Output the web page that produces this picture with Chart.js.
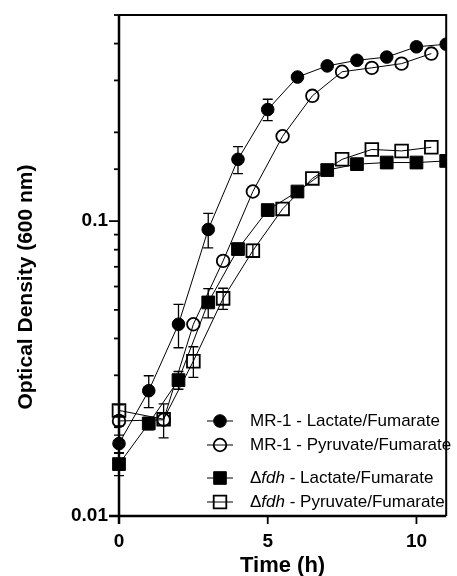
<!DOCTYPE html>
<html><head><meta charset="utf-8">
<script src="https://cdn.jsdelivr.net/npm/chart.js@4/dist/chart.umd.min.js"></script>
<style>html,body{margin:0;padding:0;background:#fff}#wrap{width:457px;height:576px}</style>
</head><body><div id="wrap"><canvas id="c" width="457" height="576"></canvas></div>
<script>
const timesA = [0,1,2,3,4,5,6,7,8,9,10,11];
const timesB = [0,1.5,2.5,3.5,4.5,5.5,6.5,7.5,8.5,9.5,10.5];
const mr1Lac = [0.0176,0.0266,0.0447,0.0937,0.162,0.239,0.308,0.336,0.351,0.360,0.390,0.398];
const mr1LacSd = [0.0012,0.0033,0.0075,0.0125,0.017,0.02,0,0,0,0,0,0];
const mr1Pyr = [0.021,0.0212,0.0447,0.0733,0.126,0.194,0.266,0.321,0.331,0.342,0.370];
const mr1PyrSd = [0.0008,0.0028,0,0,0,0,0,0,0,0,0];
const fdhLac = [0.015,0.0206,0.0289,0.053,0.0804,0.109,0.126,0.149,0.156,0.158,0.158,0.160];
const fdhLacSd = [0.0013,0.001,0.002,0.006,0.003,0,0,0,0,0,0,0];
const fdhPyr = [0.0228,0.0213,0.0335,0.0547,0.0794,0.110,0.1396,0.162,0.175,0.173,0.178];
const fdhPyrSd = [0.001,0.001,0.004,0.0045,0.004,0,0,0,0,0,0];
const seriesNames = ['MR-1 - Lactate/Fumarate','MR-1 - Pyruvate/Fumarate','\u0394fdh - Lactate/Fumarate','\u0394fdh - Pyruvate/Fumarate'];
const yLabelTicks = [0.01, 0.1];
const xLabelTicks = [0, 5, 10];
const xTitle = 'Time (h)';
const yTitle = 'Optical Density (600 nm)';

const pts = (xs, ys) => xs.map((x,i)=>({x, y: ys[i]}));
const FONT = "'Liberation Sans', Arial, sans-serif";

function ds(label, xs, ys, sd, style, filled){
  return {label, data: pts(xs, ys), sd, showLine: true, borderColor:'#000', borderWidth:1,
    pointStyle: style, pointRadius: style==='rect'?9:6.3, pointHoverRadius: style==='rect'?9:6.3,
    pointBackgroundColor: filled?'#000':'rgba(0,0,0,0)', pointBorderColor:'#000',
    pointBorderWidth: filled?1:1.8, fill:false, tension:0, clip:{left:12,top:0,right:0,bottom:0}};
}

const errorBars = {
  id:'errorBars',
  beforeDatasetsDraw(chart){
    const ctx = chart.ctx, xs = chart.scales.x, ys = chart.scales.y;
    ctx.save(); ctx.strokeStyle='#000'; ctx.lineWidth=1.3;
    chart.data.datasets.forEach(d=>{
      d.data.forEach((p,i)=>{
        const s = d.sd[i]; if(!s) return;
        const px = xs.getPixelForValue(p.x);
        const yt = ys.getPixelForValue(p.y + s), yb = ys.getPixelForValue(p.y - s);
        ctx.beginPath(); ctx.moveTo(px,yt); ctx.lineTo(px,yb);
        ctx.moveTo(px-5,yt); ctx.lineTo(px+5,yt);
        ctx.moveTo(px-5,yb); ctx.lineTo(px+5,yb); ctx.stroke();
      });
    });
    ctx.restore();
  }
};

const frame = {
  id:'frame',
  afterDatasetsDraw(chart){
    const ctx = chart.ctx, a = chart.chartArea, xs = chart.scales.x, ys = chart.scales.y;
    ctx.save(); ctx.strokeStyle='#000';
    ctx.lineWidth=2;
    ctx.beginPath(); ctx.moveTo(a.left,a.top); ctx.lineTo(a.right,a.top); ctx.lineTo(a.right,a.bottom); ctx.stroke();
    ctx.lineWidth=2.5;
    ctx.beginPath(); ctx.moveTo(a.left,a.top); ctx.lineTo(a.left,a.bottom+8); ctx.stroke();
    ctx.beginPath(); ctx.moveTo(a.left-10,a.bottom); ctx.lineTo(a.right,a.bottom); ctx.stroke();
    ctx.lineWidth=1.8;
    ys.ticks.forEach(t=>{
      const v=t.value; const py=ys.getPixelForValue(v);
      const major = yLabelTicks.some(m=>Math.abs(m-v)<1e-9);
      ctx.beginPath(); ctx.moveTo(a.left,py); ctx.lineTo(a.left-(major?10:5),py); ctx.stroke();
    });
    xLabelTicks.forEach(v=>{
      const px=xs.getPixelForValue(v);
      ctx.beginPath(); ctx.moveTo(px,a.bottom); ctx.lineTo(px,a.bottom+8); ctx.stroke();
    });
    const rows=[421,445,478,502];
    const styles=[['circle',true],['circle',false],['rect',true],['rect',false]];
    rows.forEach((ry,i)=>{
      ctx.lineWidth=1; ctx.strokeStyle='#000';
      ctx.beginPath(); ctx.moveTo(207,ry); ctx.lineTo(233,ry); ctx.stroke();
      const [st,f]=styles[i];
      ctx.beginPath();
      if(st==='circle'){ ctx.arc(220,ry,6.3,0,Math.PI*2);} else { ctx.rect(220-6.3,ry-6.3,12.6,12.6);}
      if(f){ctx.fillStyle='#000'; ctx.fill(); ctx.lineWidth=1; ctx.stroke();}
      else {ctx.lineWidth=1.8; ctx.stroke();}
      ctx.fillStyle='#000'; ctx.textBaseline='middle'; ctx.textAlign='left';
      const name = seriesNames[i];
      if(name.startsWith('\u0394')){
        let x=250;
        ctx.font='17px '+FONT; ctx.fillText('\u0394',x,ry); x+=ctx.measureText('\u0394').width;
        ctx.font='italic 17px '+FONT; ctx.fillText('fdh',x,ry); x+=ctx.measureText('fdh').width;
        ctx.font='17px '+FONT; ctx.fillText(name.slice(4),x,ry);
      } else {
        ctx.font='17px '+FONT; ctx.fillText(name,250,ry);
      }
    });
    ctx.fillStyle='#000';
    ctx.font='bold 22px '+FONT; ctx.textAlign='center'; ctx.textBaseline='alphabetic';
    ctx.fillText(xTitle,(a.left+a.right)/2,572);
    ctx.save(); ctx.translate(32,287); ctx.rotate(-Math.PI/2);
    ctx.font='bold 21px '+FONT; ctx.fillText(yTitle,0,0); ctx.restore();
    ctx.restore();
  }
};

new Chart(document.getElementById('c'), {
  type:'scatter',
  data:{datasets:[
    ds(seriesNames[0], timesA, mr1Lac, mr1LacSd, 'circle', true),
    ds(seriesNames[1], timesB, mr1Pyr, mr1PyrSd, 'circle', false),
    ds(seriesNames[2], timesA, fdhLac, fdhLacSd, 'rect', true),
    ds(seriesNames[3], timesB, fdhPyr, fdhPyrSd, 'rect', false)
  ]},
  options:{
    responsive:false, animation:false, devicePixelRatio:1,
    layout:{padding:{left:0,right:2,top:15,bottom:0}},
    plugins:{legend:{display:false}, tooltip:{enabled:false}},
    scales:{
      x:{type:'linear', min:0, max:11,
        afterFit(s){ s.height=60; s.paddingLeft=0; s.paddingRight=0; },
        afterBuildTicks(s){ s.ticks = xLabelTicks.map(v=>({value:v})); },
        grid:{display:false, drawTicks:false}, border:{display:false},
        ticks:{padding:14, color:'#000', font:{family:FONT, size:19, weight:'bold'}, maxRotation:0}},
      y:{type:'logarithmic', min:0.01, max:0.5,
        afterFit(s){ s.width=119; s.paddingTop=0; s.paddingBottom=0; },
        grid:{display:false, drawTicks:false}, border:{display:false},
        ticks:{padding:11, color:'#000', autoSkip:false, font:{family:FONT, size:19, weight:'bold'},
          callback(v){ const m = yLabelTicks.find(t=>Math.abs(t-v)<1e-9); return m!==undefined ? String(m) : ''; }}}
    }
  },
  plugins:[errorBars, frame]
});
</script></body></html>
